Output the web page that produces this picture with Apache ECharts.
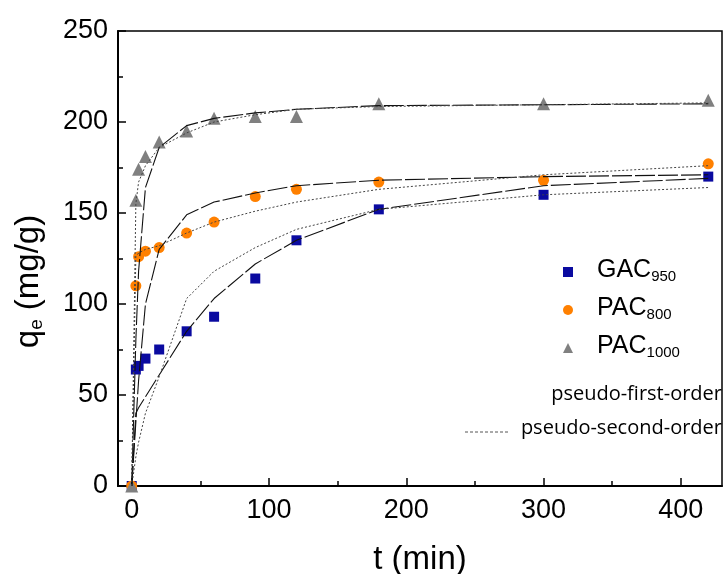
<!DOCTYPE html>
<html>
<head>
<meta charset="utf-8">
<script src="https://cdn.jsdelivr.net/npm/echarts@6/dist/echarts.min.js"></script>
<style>
  html, body { margin: 0; padding: 0; background: #fff; }
  #chart { width: 725px; height: 574px; }
</style>
</head>
<body>
<div id="chart"></div>
<script>
// sampling times (min)
var times = [0, 3, 5, 10, 20, 40, 60, 90, 120, 180, 300, 420];

// measured q_e (mg/g)
var gac950 = [0, 64, 66, 70, 75, 85, 93, 114, 135, 152, 160, 170];
var pac800 = [0, 110, 126, 129, 131, 139, 145, 159, 163, 167, 168, 177];
var pac1000 = [0, 157, 174, 181, 189, 195, 202, 203, 203, 210, 210, 212];

// fitted curves
var gacFirst = [0, 40, 43, 49, 61, 85, 103, 122, 135, 152, 165, 169];
var gacSecond = [0, 16, 24, 40, 60, 103, 118, 131, 141, 152, 160, 164];
var pac800First = [0, 35, 58, 100, 130, 149, 156, 161, 165, 168, 170, 171];
var pac800Second = [0, 126, 128, 130, 132, 139, 145, 151, 156, 163, 171, 176];
var pac1000First = [0, 80, 118, 164, 186, 198, 202, 205, 207, 209, 209.5, 210];
var pac1000Second = [0, 155, 167, 176, 186, 194, 200, 204, 207, 208.5, 209.5, 210.5];

var xTicks = [0, 100, 200, 300, 400];
var xMinorTicks = [50, 150, 250, 350];

// legend labels: main text + subscript
var legendNames = ['GAC950', 'PAC800', 'PAC1000'];
var legendMain = ['GAC', 'PAC', 'PAC'];
var legendSub = ['950', '800', '1000'];

function pairs(vals) {
  return times.map(function (t, i) { return [t, vals[i]]; });
}

var chart = echarts.init(document.getElementById('chart'));

function fitLine(name, vals, first) {
  return {
    name: name,
    type: 'line',
    data: pairs(vals),
    symbol: 'none',
    z: 3,
    lineStyle: first
      ? { color: '#111', width: 1.1, type: [20, 3] }
      : { color: '#444', width: 1, type: [2, 2] }
  };
}

var subRich = {
  m: { fontFamily: 'Liberation Sans', fontSize: 25, color: '#000', lineHeight: 26, verticalAlign: 'top' },
  s: { fontFamily: 'Liberation Sans', fontSize: 15, color: '#000', lineHeight: 14, verticalAlign: 'bottom', padding: [19, 0, 0, 0] }
};

var graphics = legendMain.map(function (m, i) {
  return {
    type: 'text',
    left: 597,
    top: 250 + i * 38,
    style: { text: '{m|' + m + '}{s|' + legendSub[i] + '}', rich: subRich }
  };
});
graphics.push(
  { type: 'text', right: 3, top: 384, style: { text: 'pseudo-first-order', font: '20px "Open Sans"', fill: '#000' } },
  { type: 'text', right: 3, top: 418, style: { text: 'pseudo-second-order', font: '20px "Open Sans"', fill: '#000' } },
  { type: 'line', shape: { x1: 465, y1: 432, x2: 510, y2: 432 }, style: { stroke: '#555', lineWidth: 1, lineDash: [3, 2] } }
);

var option = {
  animation: false,
  grid: {
    left: 118, right: 3, top: 31, bottom: 88,
    outerBoundsMode: 'none',
    show: true, borderColor: '#000', borderWidth: 1.5
  },
  legend: {
    orient: 'vertical',
    left: 558,
    top: 262,
    itemWidth: 10,
    itemHeight: 10,
    itemGap: 28,
    data: legendNames,
    formatter: function () { return ''; },
    textStyle: { fontSize: 10, lineHeight: 10 }
  },
  xAxis: [{
    type: 'value',
    min: -10,
    max: 430,
    name: 't (min)',
    nameLocation: 'middle',
    nameGap: 57,
    nameTextStyle: { fontFamily: 'Liberation Sans', fontSize: 33, color: '#000' },
    axisLine: { lineStyle: { color: '#000', width: 2 } },
    axisTick: { inside: true, length: 8, customValues: xTicks, lineStyle: { color: '#000', width: 1.5 } },
    axisLabel: { customValues: xTicks, margin: 11, fontFamily: 'Liberation Sans', fontSize: 27, color: '#000' },
    splitLine: { show: false }
  }, {
    type: 'value',
    min: -10,
    max: 430,
    position: 'bottom',
    axisLine: { show: false },
    axisTick: { inside: true, length: 5, customValues: xMinorTicks, lineStyle: { color: '#000', width: 1.5 } },
    axisLabel: { show: false },
    splitLine: { show: false }
  }],
  yAxis: {
    type: 'value',
    min: 0,
    max: 250,
    interval: 50,
    name: '{q|q}{e|e}{t| (mg/g)}',
    nameLocation: 'middle',
    nameGap: 72,
    nameTextStyle: {
      rich: {
        q: { fontFamily: 'Liberation Sans', fontSize: 33, color: '#000', lineHeight: 34, verticalAlign: 'top' },
        t: { fontFamily: 'Liberation Sans', fontSize: 33, color: '#000', lineHeight: 34, verticalAlign: 'top', padding: [0, 46, 0, 0] },
        e: { fontFamily: 'Liberation Sans', fontSize: 19, color: '#000', lineHeight: 19, verticalAlign: 'bottom', padding: [22, 0, 0, 0] }
      }
    },
    axisLine: { onZero: false, lineStyle: { color: '#000', width: 2 } },
    axisTick: { inside: true, length: 8, lineStyle: { color: '#000', width: 1.5 } },
    minorTick: { show: true, splitNumber: 2, length: 5, lineStyle: { color: '#000', width: 1.5 } },
    axisLabel: { margin: 10, fontFamily: 'Liberation Sans', fontSize: 27, color: '#000' },
    splitLine: { show: false }
  },
  graphic: graphics,
  series: [
    { name: 'GAC950', type: 'scatter', data: pairs(gac950), symbol: 'rect', symbolSize: 10, itemStyle: { color: '#0a0aa0', opacity: 1 }, z: 2 },
    { name: 'PAC800', type: 'scatter', data: pairs(pac800), symbol: 'circle', symbolSize: 11, itemStyle: { color: '#ff8000', opacity: 1 }, z: 2 },
    { name: 'PAC1000', type: 'scatter', data: pairs(pac1000), symbol: 'triangle', symbolSize: 13, itemStyle: { color: '#808080', opacity: 1 }, z: 2 },
    fitLine('pseudo-first-order', gacFirst, true),
    fitLine('pseudo-second-order', gacSecond, false),
    fitLine('pseudo-first-order', pac800First, true),
    fitLine('pseudo-second-order', pac800Second, false),
    fitLine('pseudo-first-order', pac1000First, true),
    fitLine('pseudo-second-order', pac1000Second, false)
  ]
};

chart.setOption(option);
</script>
</body>
</html>
